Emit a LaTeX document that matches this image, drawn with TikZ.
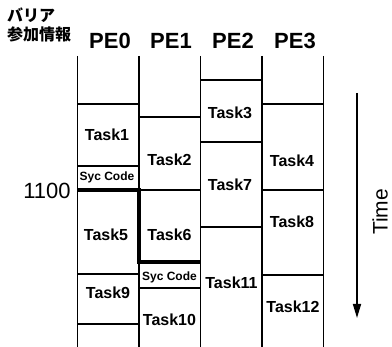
\documentclass[tikz,border=0pt]{standalone}
\usepackage{fontspec}
\setmainfont{Liberation Sans}
\newfontfamily\jpfont{Noto Sans CJK JP}
\usetikzlibrary{arrows.meta}

\begin{document}
\begin{tikzpicture}[
    x=1pt, y=-1pt,
    every node/.style={inner sep=0pt},
    lane/.style={line width=1.6pt},
    slot/.style={line width=1.6pt},
    barrier/.style={line width=3.8pt},
    task/.style={font=\fontsize{16}{16}\selectfont\bfseries},
    sync/.style={font=\fontsize{12}{12}\selectfont\bfseries},
    pe/.style={font=\fontsize{22}{22}\selectfont\bfseries},
    jp/.style={font=\fontsize{16}{16}\jpfont\bfseries, anchor=west},
    timeline/.style={line width=1.6pt, -{Triangle[length=14pt, width=8pt]}}
  ]
  \useasboundingbox (0,0) rectangle (392,347);

  % lanes
  \draw[lane] (77.5,56) -- (77.5,347)
    (139,56) -- (139,347)
    (200.5,56) -- (200.5,347)
    (262,56) -- (262,347)
    (323.5,56) -- (323.5,347);

  % slot borders
  \draw[slot] (77.5,104) -- (139,104) (77.5,166) -- (139,166)
    (77.5,274) -- (139,274) (77.5,324) -- (139,324);
  \draw[slot] (139,117) -- (200.5,117) (139,288) -- (200.5,288);
  \draw[slot] (200.5,80) -- (262,80) (200.5,142) -- (262,142)
    (200.5,227) -- (262,227);
  \draw[slot] (262,104) -- (323.5,104) (262,190) -- (323.5,190)
    (262,275) -- (323.5,275);
  \draw[slot] (139,190) -- (200.5,190);

  % barrier
  \draw[barrier] (77.5,190) -- (139,190) -- (139,262) -- (200.5,262);

  % headers
  \node[jp] (jp1) at (7,15) {バリア};
  \node[jp] (jp2) at (7,34) {参加情報};
  \node[pe] (pe0) at (110,41) {PE0};
  \node[pe] (pe1) at (171,41) {PE1};
  \node[pe] (pe2) at (233,41) {PE2};
  \node[pe] (pe3) at (295,41) {PE3};

  % tasks
  \node[task] (t1) at (107,135) {Task1};
  \node[sync] (sync0) at (107,177) {Syc Code};
  \node[task] (t5) at (106,235) {Task5};
  \node[task] (t9) at (108,293) {Task9};
  \node[task] (t2) at (169.5,160) {Task2};
  \node[task] (t6) at (169.5,235) {Task6};
  \node[sync] (sync1) at (169.5,277) {Syc Code};
  \node[task] (t10) at (169.5,320) {Task10};
  \node[task] (t3) at (230,113) {Task3};
  \node[task] (t7) at (230,185) {Task7};
  \node[task] (t11) at (231.5,283) {Task11};
  \node[task] (t4) at (292,161) {Task4};
  \node[task] (t8) at (292,222) {Task8};
  \node[task] (t12) at (293,307) {Task12};

  \node[font=\fontsize{22}{22}\selectfont] (mark) at (47,191) {1100};

  % time axis
  \coordinate (tstart) at (357,93);
  \coordinate (tend) at (357,318);
  \draw[timeline] (tstart) -- (tend);
  \node[font=\fontsize{21}{21}\selectfont, rotate=90] (time) at (380,212) {Time};
\end{tikzpicture}
\end{document}
